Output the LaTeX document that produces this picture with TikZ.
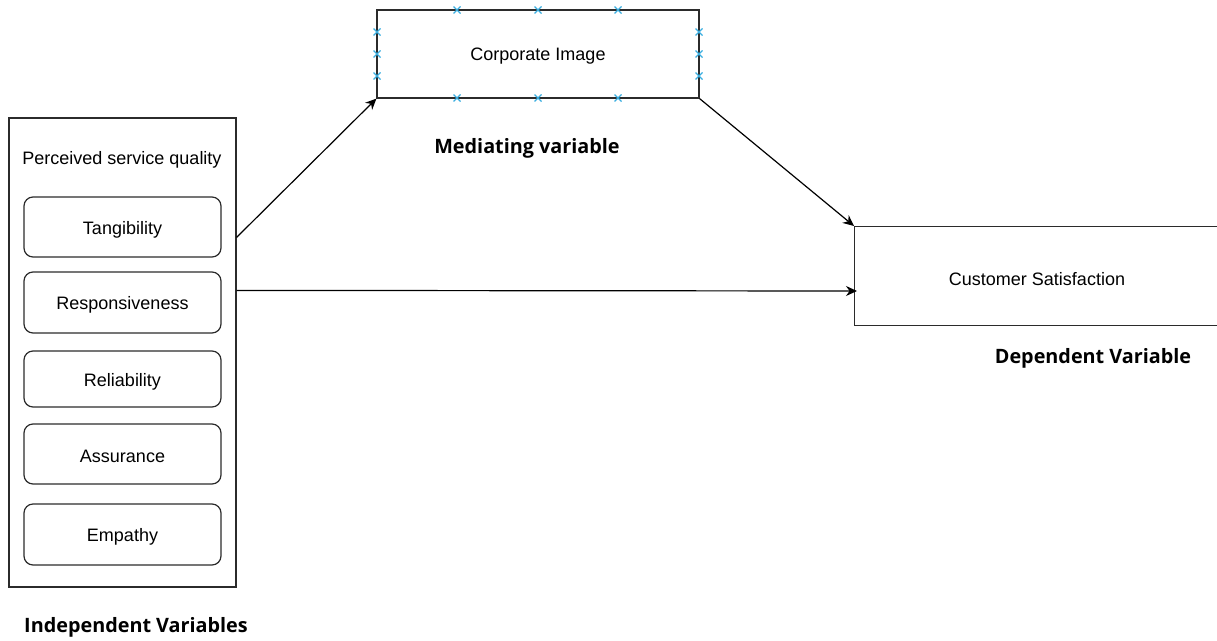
\documentclass[tikz,border=0pt]{standalone}
\usepackage{fontspec}
\setmainfont{Liberation Sans}
\newfontfamily\lblfont{Open Sans}
\usetikzlibrary{calc,arrows.meta}
\definecolor{edgegray}{HTML}{2B2B2B}
\definecolor{cpblue}{HTML}{3AAEE0}
\newcommand{\cpx}[2]{\draw[cpblue,line width=1.3pt] (#1-3.5,#2-3.5)--(#1+3.5,#2+3.5) (#1-3.5,#2+3.5)--(#1+3.5,#2-3.5);}
\newcommand{\dn}[1]{\raisebox{-2.5pt}[\height][\depth]{#1}}

\begin{document}
\begin{tikzpicture}[x=1pt,y=-1pt,
  box/.style={draw=edgegray,line width=1.2pt,inner sep=0pt,font=\fontsize{18}{21}\selectfont},
  item/.style={box,rounded corners=9pt,minimum width=197},
  lbl/.style={font=\lblfont\bfseries\fontsize{19.8}{23}\selectfont},
  arr/.style={-{Stealth[length=11pt,width=10pt]},line width=1.2pt}]
\useasboundingbox (0,0) rectangle (1217,640);
\clip (0,0) rectangle (1217,640);
% independent side
\node[box,minimum width=227,minimum height=469] (psq) at (122.5,352.5) {};
\node[font=\fontsize{18}{21}\selectfont] (psqt) at (122,160) {Perceived service quality};
\node[item,minimum height=60] (tang) at (122.5,227) {\dn{Tangibility}};
\node[item,minimum height=61] (resp) at (122.5,302.5) {\dn{Responsiveness}};
\node[item,minimum height=56] (reli) at (122.5,379) {\dn{Reliability}};
\node[item,minimum height=60] (assu) at (122.5,454) {\dn{Assurance}};
\node[item,minimum height=61] (empa) at (122.5,534.5) {\dn{Empathy}};
\node[lbl] (indep) at (136,627) {Independent Variables};
% mediator
\node[box,minimum width=322,minimum height=88] (ci) at (538,54) {\dn{Corporate Image}};
\foreach \x in {457,538,618} {\cpx{\x}{10} \cpx{\x}{98}}
\foreach \y in {32,54,76} {\cpx{377}{\y} \cpx{699}{\y}}
\node[lbl] (med) at (527,148) {Mediating variable};
% dependent
\node[box,minimum width=420,minimum height=99,anchor=north west] (cs) at (854,226) {};
\node[font=\fontsize{18}{21}\selectfont] (cst) at (1037,279) {Customer Satisfaction};
\node[lbl] (dep) at (1093,358) {Dependent Variable};
% paths
\draw[arr] ($(psq.north east)+(0,120)$) -- (ci.south west);
\draw[arr] (ci.south east) -- (cs.north west);
\draw[arr] ($(psq.north east)+(0,173)$) -- ($(cs.north west)+(3,65)$);
\end{tikzpicture}
\end{document}
